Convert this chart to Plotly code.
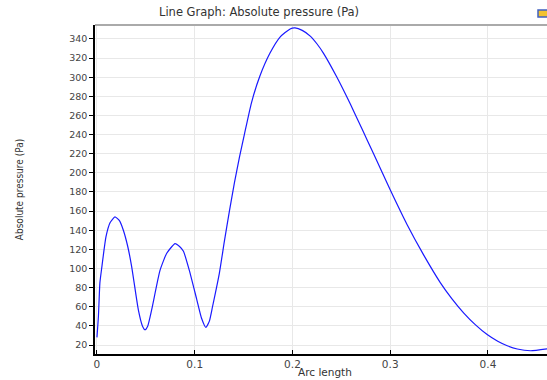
import plotly.graph_objects as go

arc_length = [0.0, 0.0015, 0.003, 0.0048, 0.0092, 0.0135, 0.0184, 0.023, 0.027, 0.0315,
              0.0355, 0.0423, 0.0465, 0.0492, 0.052, 0.056, 0.0645, 0.0714, 0.0799, 0.0845,
              0.0885, 0.0945, 0.102, 0.107, 0.1114, 0.115, 0.1182, 0.1252, 0.1303, 0.1355,
              0.1407, 0.1459, 0.151, 0.158, 0.1666, 0.1769, 0.1873, 0.1976, 0.2026, 0.21,
              0.2182, 0.225, 0.2318, 0.2455, 0.2592, 0.2711, 0.283, 0.3001, 0.3172, 0.3343,
              0.3514, 0.363, 0.3753, 0.387, 0.3992, 0.41, 0.4197, 0.43, 0.4436, 0.4607]
pressure = [28, 50, 85, 100, 133, 148, 154, 150, 140, 123,
            102, 57, 40, 36, 40, 57, 98, 116, 126, 123,
            118, 98, 68, 48, 38.5, 45, 60, 95, 128, 160,
            190, 217, 241, 273, 301, 325, 342, 350.5, 351.5, 349,
            343, 335, 325, 300, 272, 246, 220, 182, 146, 114,
            85, 68.5, 53.4, 41.3, 30.9, 23.9, 19.2, 15.8, 14, 16]

x_ticks = [0, 0.1, 0.2, 0.3, 0.4]
x_ticklabels = ["0", "0.1", "0.2", "0.3", "0.4"]
y_ticks = list(range(20, 341, 20))

title_text = "Line Graph: Absolute pressure (Pa)"
x_title = "Arc length"
y_title = "Absolute pressure (Pa)"

fig = go.Figure()
fig.add_trace(go.Scatter(
    x=arc_length, y=pressure, mode="lines",
    line=dict(color="#1a1aff", width=1.2, shape="spline", smoothing=0.5),
    showlegend=False, hoverinfo="skip"))

y_tick_font = dict(family="DejaVu Sans", size=9.5, color="#444444")
x_tick_font = dict(family="DejaVu Sans", size=10.5, color="#444444")
title_font = dict(family="DejaVu Sans", size=11.5, color="#333333")
xlabel_font = dict(family="DejaVu Sans", size=10.5, color="#333333")

plot_l, plot_t, plot_b = 95, 25, 26
plot_w = 547 - plot_l
plot_h = 380 - plot_t - plot_b


def px_x(px):
    return (px - plot_l) / plot_w


def px_y(py):
    return 1 + (plot_t - py) / plot_h


fig.update_layout(
    width=547, height=380,
    margin=dict(l=plot_l, r=0, t=plot_t, b=plot_b),
    paper_bgcolor="white", plot_bgcolor="white",
    annotations=[
        dict(text=title_text, x=px_x(259), y=px_y(12), xref="paper", yref="paper",
             xanchor="center", yanchor="middle", showarrow=False, font=title_font),
        dict(text=x_title, x=px_x(325), y=px_y(372), xref="paper", yref="paper",
             xanchor="center", yanchor="middle", showarrow=False, font=xlabel_font),
    ],
    xaxis=dict(
        range=[-0.002, 0.4604], tickvals=x_ticks, ticktext=x_ticklabels,
        ticks="inside", ticklen=4, tickcolor="#000000", tickwidth=1,
        showline=True, linecolor="#000000", linewidth=1.5,
        showgrid=True, gridcolor="#e8e8e8", gridwidth=1, zeroline=False,
        tickfont=x_tick_font,
    ),
    yaxis=dict(
        range=[10.6, 354.6], tickvals=y_ticks,
        ticks="outside", ticklen=4, tickcolor="#000000", tickwidth=1,
        showline=True, linecolor="#000000", linewidth=1.5,
        showgrid=True, gridcolor="#e8e8e8", gridwidth=1, zeroline=False,
        tickfont=y_tick_font,
        title=dict(text=y_title, font=dict(family="DejaVu Sans Condensed, Liberation Sans Narrow, DejaVu Sans", size=10, color="#333333"), standoff=44),
    ),
    shapes=[
        dict(type="line", xref="paper", yref="paper", x0=0, x1=1, y0=1, y1=1,
             line=dict(color="#aaaaaa", width=2)),
        dict(type="rect", xref="paper", yref="paper",
             x0=px_x(538), x1=px_x(548), y0=px_y(17), y1=px_y(10),
             fillcolor="#f2c230", line=dict(color="#4060c0", width=1.5)),
    ],
)

fig.write_html("out.html")
